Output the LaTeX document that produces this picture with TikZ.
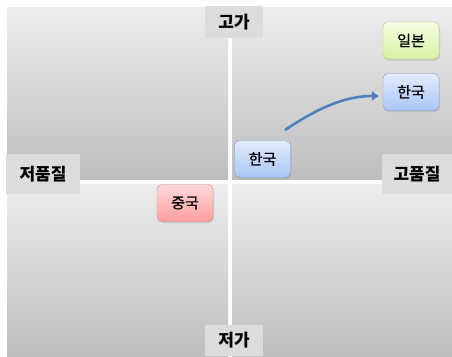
\documentclass[tikz,border=0pt]{standalone}
\usepackage{fontspec}
\setmainfont{Noto Sans CJK KR}
\newfontfamily\boxfont{Noto Sans CJK KR}[FakeBold=0.7]
\usetikzlibrary{arrows.meta,shadows,calc}
\definecolor{quadtop}{HTML}{EDEDED}
\definecolor{quadbot}{HTML}{BEBEBE}
\definecolor{axisgray}{HTML}{DCDCDC}
\definecolor{bluetop}{HTML}{E3ECFD}
\definecolor{bluebot}{HTML}{A9C5F6}
\definecolor{blueline}{HTML}{7C9ED3}
\definecolor{greentop}{HTML}{F6FDE3}
\definecolor{greenbot}{HTML}{D6F2A2}
\definecolor{greenline}{HTML}{B3CD86}
\definecolor{redtop}{HTML}{FFDADA}
\definecolor{redbot}{HTML}{FF9E9E}
\definecolor{redline}{HTML}{D98585}
\definecolor{arrowblue}{HTML}{4F81BD}
\tikzset{quad/.style={top color=quadtop,bottom color=quadbot,draw=none},
	axislabel/.style={fill=axisgray,inner sep=0pt,font=\fontsize{17}{17}\selectfont\bfseries},
	country/.style={rounded corners=5pt,minimum width=56pt,minimum height=37pt,inner sep=0pt,
		font=\boxfont\fontsize{15}{15}\selectfont,
		drop shadow={opacity=0.25,shadow xshift=1pt,shadow yshift=-1.5pt}},
	bluebox/.style={country,top color=bluetop,bottom color=bluebot,draw=blueline},
	greenbox/.style={country,top color=greentop,bottom color=greenbot,draw=greenline},
	redbox/.style={country,top color=redtop,bottom color=redbot,draw=redline}}

\begin{document}
\begin{tikzpicture}[x=1pt,y=-1pt,>=Triangle]
\useasboundingbox (0,0) rectangle (452,356);
\foreach \xa/\xb/\ya/\yb in {7/228/7/179,232/452/7/179,7/228/184/356,232/452/184/356} {
	\path[quad] (\xa,\ya) rectangle (\xb,\yb);
};

\node[axislabel,minimum width=58pt,minimum height=32pt] (high) at (234,22) {고가};
\node[axislabel,minimum width=58pt,minimum height=31pt] (low) at (234,340.5) {저가};
\node[axislabel,minimum width=74pt,minimum height=40pt] (lowq) at (43,174) {저품질};
\node[axislabel,minimum width=70pt,minimum height=40pt] (highq) at (417,174) {고품질};

\node[greenbox] (japan) at (411,40.5) {일본};
\node[bluebox] (koreanew) at (411,92) {한국};
\node[bluebox] (korea) at (262.5,159) {한국};
\node[redbox] (china) at (185,203) {중국};

\coordinate (move) at (285,130);
\draw[->,arrowblue,line width=2.6pt,-{Triangle[length=7pt,width=9pt]},shorten >=4pt]
	(move) .. controls (318,108) and (345,96) .. ([yshift=-4pt]koreanew.west);
\end{tikzpicture}
\end{document}
